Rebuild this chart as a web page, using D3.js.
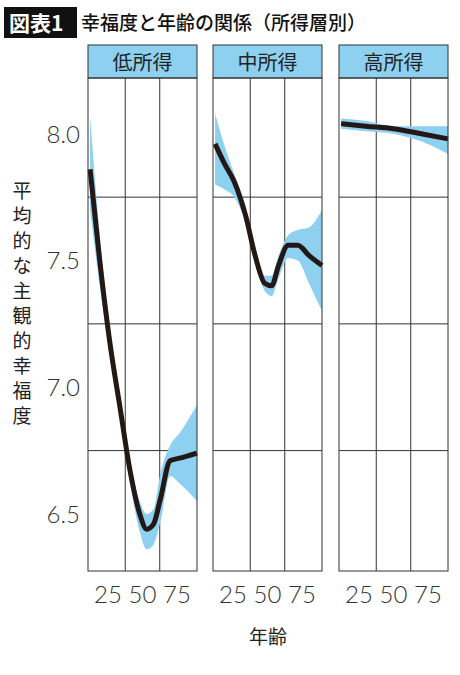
<!DOCTYPE html>
<html><head><meta charset="utf-8">
<script src="https://cdn.jsdelivr.net/npm/d3@7"></script>
<style>body{margin:0;background:#fff}svg{font-family:"Noto Sans CJK JP","Noto Sans",sans-serif}</style>
</head><body><div id="chart"></div>
<script>
const groups = ["低所得", "中所得", "高所得"]
const ages = [
  [12, 19, 26, 34, 41, 48, 53, 58, 63, 70, 77, 89.5],
  [12, 19, 26, 34, 41, 48, 53, 58, 65, 72, 80, 89.5],
  [12, 30, 50, 70, 89.5]
]
const fit = [
  [7.86, 7.5, 7.19, 6.91, 6.67, 6.5, 6.44, 6.46, 6.56, 6.71, 6.72, 6.74],
  [7.96, 7.88, 7.81, 7.68, 7.52, 7.41, 7.40, 7.48, 7.56, 7.56, 7.52, 7.48],
  [8.04, 8.03, 8.02, 8.0, 7.98]
]
const upper = [
  [8.07, 7.6, 7.24, 6.95, 6.71, 6.55, 6.5, 6.52, 6.66, 6.77, 6.82, 6.93],
  [8.08, 7.95, 7.84, 7.71, 7.55, 7.44, 7.44, 7.52, 7.6, 7.62, 7.63, 7.70],
  [8.06, 8.05, 8.03, 8.03, 8.03]
]
const lower = [
  [7.7, 7.4, 7.14, 6.87, 6.62, 6.43, 6.36, 6.38, 6.47, 6.65, 6.62, 6.55],
  [7.80, 7.78, 7.75, 7.65, 7.49, 7.38, 7.36, 7.43, 7.51, 7.5, 7.41, 7.30],
  [8.02, 8.01, 8.0, 7.97, 7.92]
]
const yTicks = [6.5, 7.0, 7.5, 8.0]
const yGrid = [6.75, 7.25, 7.75]
const xTicks = [25, 50, 75]
const xGrid = [37.5, 62.5]

const W = 460, H = 675
const svg = d3.select("#chart").append("svg").attr("width", W).attr("height", H)

// title
svg.append("rect").attr("x", 4).attr("y", 7).attr("width", 73).attr("height", 31).attr("fill", "#111")
svg.append("text").attr("x", 9).attr("y", 31).attr("fill", "#fff").attr("font-size", 21).attr("font-weight", "bold").text("図表1")
svg.append("text").attr("x", 81).attr("y", 30).attr("fill", "#111").attr("font-size", 19).attr("font-weight", 500).text("幸福度と年齢の関係（所得層別）")

const y = d3.scaleLinear().domain([6.275, 8.22]).range([571, 78])
const panelX = [88, 213, 339], PW = 109

svg.selectAll(".yt").data(yTicks).join("text")
  .attr("x", 80).attr("y", d => y(d) + 9).attr("text-anchor", "end")
  .attr("font-size", 24).attr("fill", "#333").attr("font-family", "Lato, sans-serif").attr("font-weight", 300)
  .text(d => d.toFixed(1))

const ylab = "平均的な主観的幸福度"
svg.selectAll(".yl").data(ylab.split("")).join("text")
  .attr("x", 22).attr("y", (d, i) => 198 + i * 25).attr("text-anchor", "middle")
  .attr("font-size", 19).attr("fill", "#222").text(d => d)

svg.append("text").attr("x", 268).attr("y", 644).attr("text-anchor", "middle")
  .attr("font-size", 19).attr("fill", "#222").text("年齢")

groups.forEach((g, k) => {
  const x0 = panelX[k]
  const x = d3.scaleLinear().domain([10.5, 89.5]).range([x0, x0 + PW])
  const p = svg.append("g")
  p.append("rect").attr("x", x0).attr("y", 45).attr("width", PW).attr("height", 33)
    .attr("fill", "#8dd0f0").attr("stroke", "#333").attr("stroke-width", 1)
  p.append("text").attr("x", x0 + PW / 2).attr("y", 70).attr("text-anchor", "middle")
    .attr("font-size", 20).attr("fill", "#222").text(g)
  p.selectAll(".gy").data(yGrid).join("line")
    .attr("x1", x0).attr("x2", x0 + PW).attr("y1", d => y(d)).attr("y2", d => y(d))
    .attr("stroke", "#333").attr("stroke-width", 1)
  p.selectAll(".gx").data(xGrid).join("line")
    .attr("y1", 78).attr("y2", 571).attr("x1", d => x(d)).attr("x2", d => x(d))
    .attr("stroke", "#333").attr("stroke-width", 1)
  const pts = ages[k].map((a, i) => ({a, f: fit[k][i], u: upper[k][i], l: lower[k][i]}))
  p.append("path").datum(pts).attr("fill", "#8dd0f0")
    .attr("d", d3.area().x(d => x(d.a)).y0(d => y(d.l)).y1(d => y(d.u)).curve(d3.curveMonotoneX))
  p.append("path").datum(pts).attr("fill", "none").attr("stroke", "#231815").attr("stroke-width", 5)
    .attr("stroke-linejoin", "round")
    .attr("d", d3.line().x(d => x(d.a)).y(d => y(d.f)).curve(d3.curveMonotoneX))
  p.append("rect").attr("x", x0).attr("y", 78).attr("width", PW).attr("height", 493)
    .attr("fill", "none").attr("stroke", "#333").attr("stroke-width", 1)
  p.selectAll(".xt").data(xTicks).join("text")
    .attr("x", d => x(d)).attr("y", 603).attr("text-anchor", "middle")
    .attr("font-size", 24).attr("fill", "#333").attr("font-family", "Lato, sans-serif").attr("font-weight", 300)
    .text(d => d)
})
</script></body></html>
